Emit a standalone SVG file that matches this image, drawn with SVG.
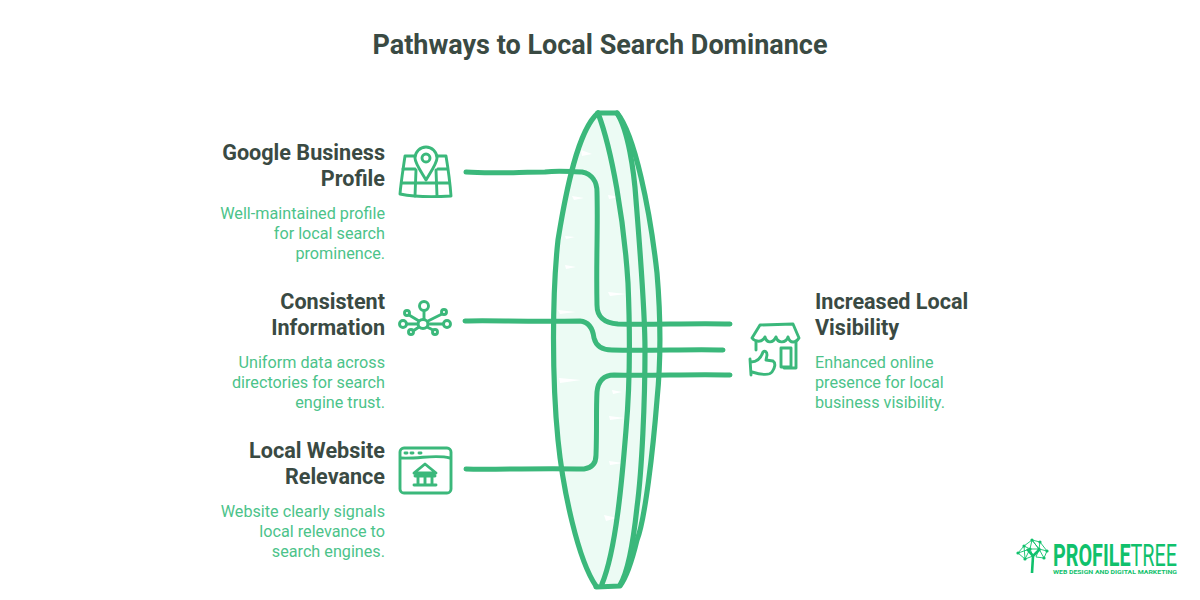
<svg xmlns="http://www.w3.org/2000/svg" width="1200" height="600" viewBox="0 0 1200 600">
<style>
.title{font:700 27px Roboto,"Liberation Sans",sans-serif;fill:#3a4a43}
.h{font:700 21.6px Roboto,"Liberation Sans",sans-serif;fill:#3a4a43}
.d{font:400 16.2px Roboto,"Liberation Sans",sans-serif;fill:#4cc38a}
.e{text-anchor:end}
.ln{fill:none;stroke:#3bb87b;stroke-width:5.2;stroke-linecap:round;stroke-linejoin:round}
.cn{fill:none;stroke:#3bb87b;stroke-width:5;stroke-linecap:round;stroke-linejoin:round}
.ic{fill:none;stroke:#3bb87b;stroke-width:2.9;stroke-linecap:round;stroke-linejoin:round}
.lg{fill:none;stroke:#10c16c;stroke-width:.9}
</style>
<rect width="1200" height="600" fill="#fff"/>
<text class="title" x="600" y="54" text-anchor="middle">Pathways to Local Search Dominance</text>

<g id="lens">
<path d="M598 113L620 115C636 150 650 210 657 273C661 320 661 360 657 400C653 450 645 520 620 586L596 587C578 560 563 490 558 440C552 380 552 295 558 240C566 190 578 130 598 113Z" fill="#ecfbf4"/>
<path fill="#fff" d="M581 150L592 154L582 156ZM572 196L584 198L574 200ZM608 195L620 197L609 199ZM565 236L575 237L566 239ZM565 265L576 267L566 269ZM608 292L626 294L610 296ZM558 310L576 312L560 314ZM559 378L581 380L560 383ZM609 416L625 418L610 420ZM609 461L623 463L610 465ZM604 515L617 518L606 521ZM612 390L622 392L613 394Z"/>
<path class="ln" d="M598 113C578 130 566 190 558 240C552 295 552 380 558 440C563 490 578 560 596 586"/>
<path class="ln" d="M598 113C612 150 624 220 628 283C630 330 630 385 626 430C622 480 616 550 602 584"/>
<path class="ln" d="M598 113L617 113C628 130 634 170 636 200C640 250 645 310 645 350C645 400 642 470 637 507C633 545 628 572 620 585"/>
<path class="ln" d="M617 113C635 135 650 210 657 273C661 320 661 360 657 400C653 450 645 520 637 540C631 565 626 578 620 586L596 587"/>
</g>

<g id="connectors">
<path class="cn" d="M466 172C490 174 520 172 545 172C560 170 572 172 582 172C592 174 597 182 597 192C598 230 596 260 597 305C597 318 605 323 618 324C650 325 690 323 730 324"/>
<path class="cn" d="M465 321C490 320 520 322 580 321C590 322 593 330 594 338C596 346 602 350 612 350C650 351 690 349 723 350"/>
<path class="cn" d="M466 469C490 470 530 468 584 469C592 468 596 463 596 455C597 430 596 410 597 392C598 381 604 375 614 375C650 376 690 374 730 375"/>
</g>

<g id="node-google">
<text class="h e" x="385" y="160">Google Business</text>
<text class="h e" x="385" y="186">Profile</text>
<text class="d e" x="385" y="219">Well-maintained profile</text>
<text class="d e" x="385" y="239">for local search</text>
<text class="d e" x="385" y="259">prominence.</text>
<path class="ic" d="M414 156L405 156C403 170 401 182 400 194C415 197 435 197 451 196C450 182 448 168 446 156L438 156"/>
<path class="ic" d="M402 183L449 183M403 169L415 169M438 169L447 169M416 170L415 196M436 170L437 196"/>
<path class="ic" d="M426 180C420 170 415 163 415 158C415 152 420 147 426 147C432 147 437 152 437 158C437 163 432 170 426 180Z"/>
<circle class="ic" cx="426" cy="158" r="4"/>
</g>

<g id="node-consistent">
<text class="h e" x="385" y="309">Consistent</text>
<text class="h e" x="385" y="335">Information</text>
<text class="d e" x="385" y="368">Uniform data across</text>
<text class="d e" x="385" y="388">directories for search</text>
<text class="d e" x="385" y="408">engine trust.</text>
<g class="ic">
<ellipse cx="423" cy="324" rx="5" ry="4.5"/><circle cx="424" cy="306" r="4.5"/><circle cx="407" cy="313" r="2.5"/><circle cx="444" cy="312" r="2.5"/><circle cx="403" cy="324" r="3.5"/><circle cx="447" cy="324" r="3.5"/><circle cx="411" cy="332" r="2.5"/><circle cx="435" cy="332" r="2.5"/>
<path d="M424 311L424 319M409 315L419 321M442 314L428 321M407 324L418 324M443 324L428 324M413 331L419 327M433 330L427 327"/>
</g>
</g>

<g id="node-website">
<text class="h e" x="385" y="458">Local Website</text>
<text class="h e" x="385" y="484">Relevance</text>
<text class="d e" x="385" y="517">Website clearly signals</text>
<text class="d e" x="385" y="537">local relevance to</text>
<text class="d e" x="385" y="557">search engines.</text>
<g class="ic">
<rect x="400" y="448" width="51" height="45" rx="4"/>
<path d="M401 458C420 459 435 454 450 458M405 453L407 453M411 453L413 453M419 453L421 453"/>
<path d="M425 464L414 473L436 473ZM415 476L435 476M418 476L418 484M425 476L425 484M432 476L432 484M414 485L436 485"/>
</g>
</g>

<g id="node-visibility">
<text class="h" x="815" y="309">Increased Local</text>
<text class="h" x="815" y="335">Visibility</text>
<text class="d" x="815" y="368">Enhanced online</text>
<text class="d" x="815" y="388">presence for local</text>
<text class="d" x="815" y="408">business visibility.</text>
<g class="ic">
<path d="M760 325L793 324L799 338C796 343 790 344 788 337C786 343 778 344 776 337C773 343 767 344 765 337C762 343 755 342 752 338Z"/>
<path d="M756 342L756 350M796 341L796 368L784 368M781 348L791 348L791 367L781 367Z"/>
<path d="M750 359L751 375M751 362C757 362 761 358 763 352C765 350 767 352 767 355L766 360L773 361C776 363 775 368 772 372C769 376 762 375 752 372"/>
</g>
</g>

<g id="logo">
<text transform="translate(1053 566) scale(.65 1)" font-family="Roboto,'Liberation Sans',sans-serif" font-weight="700" font-size="32" fill="#10c16c" textLength="190.8" lengthAdjust="spacingAndGlyphs">PROFILE<tspan font-weight="400">TREE</tspan></text>
<text x="1053" y="573.5" font-family="Roboto,'Liberation Sans',sans-serif" font-weight="700" font-size="6" fill="#10c16c" textLength="124" lengthAdjust="spacingAndGlyphs">WEB DESIGN AND DIGITAL MARKETING</text>
<path d="M1032 573L1033 556L1027 549M1033 556L1040 549" fill="none" stroke="#10c16c" stroke-width="2.6"/>
<path class="lg" d="M1018 553L1024 546L1032 540L1040 542L1047 551L1044 558L1039 549L1032 540L1030 549L1024 546M1018 553L1030 549L1039 549L1040 542M1018 553L1025 559L1030 549L1033 556L1039 549M1044 558L1036 557L1039 549M1024 546L1025 559M1032 540L1039 549L1047 551M1025 559L1033 556"/>
<g fill="#10c16c"><circle cx="1018" cy="553" r="1.6"/><circle cx="1024" cy="546" r="1.6"/><circle cx="1032" cy="540" r="1.6"/><circle cx="1040" cy="542" r="1.6"/><circle cx="1047" cy="551" r="1.6"/><circle cx="1044" cy="558" r="1.6"/><circle cx="1030" cy="549" r="1.6"/><circle cx="1039" cy="549" r="1.6"/><circle cx="1025" cy="559" r="1.6"/></g>
</g>
</svg>
